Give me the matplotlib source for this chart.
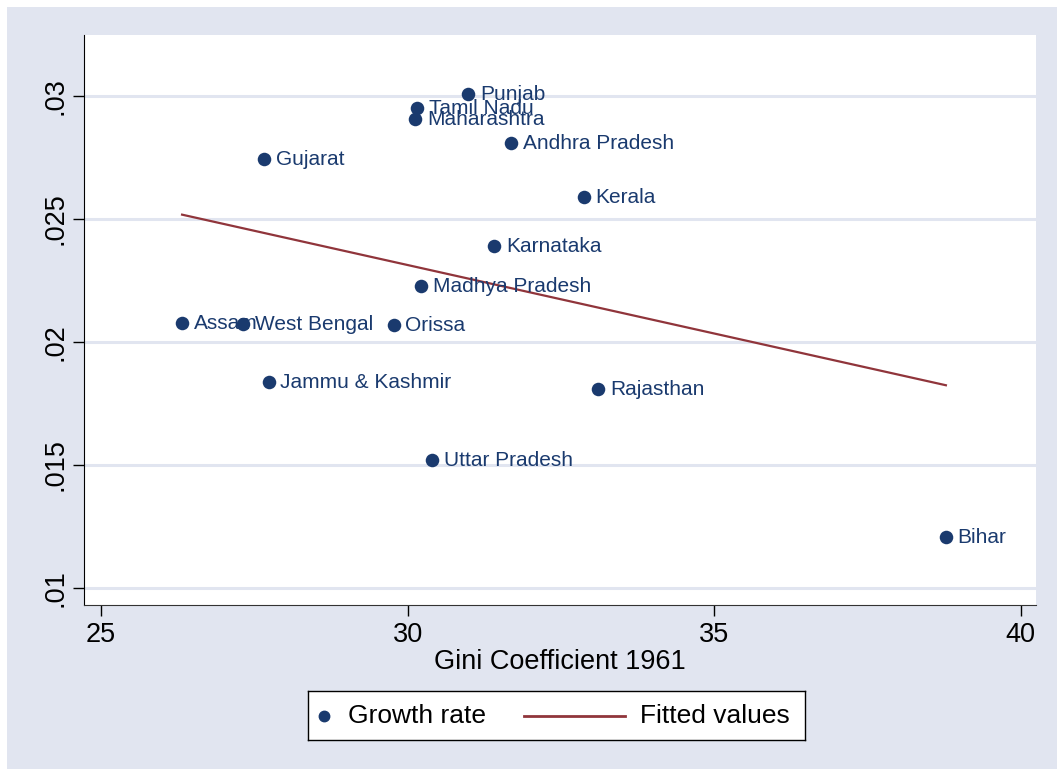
import numpy as np
import matplotlib
matplotlib.use("Agg")
import matplotlib.pyplot as plt
from matplotlib.patches import Rectangle

states = ["Punjab", "Tamil Nadu", "Maharashtra", "Andhra Pradesh", "Gujarat",
          "Kerala", "Karnataka", "Madhya Pradesh", "Assam", "West Bengal",
          "Orissa", "Jammu & Kashmir", "Rajasthan", "Uttar Pradesh", "Bihar"]
gini_1961 = [30.99, 30.16, 30.12, 31.69, 27.66,
             32.87, 31.41, 30.22, 26.32, 27.32,
             29.77, 27.73, 33.11, 30.40, 38.78]
growth_rate = [0.03008, 0.02951, 0.02907, 0.02809, 0.02744,
               0.02589, 0.02390, 0.02228, 0.02077, 0.02073,
               0.02069, 0.01837, 0.01809, 0.01520, 0.01207]
x_ticks = [25, 30, 35, 40]
y_ticks = [0.01, 0.015, 0.02, 0.025, 0.03]
y_tick_labels = [".01", ".015", ".02", ".025", ".03"]
legend_labels = ["Growth rate", "Fitted values"]

NAVY = "#1A3A6E"
MAROON = "#90353B"
BG = "#E1E5F0"
GRID = "#E1E5F0"

plt.rcParams['font.family'] = ['Liberation Sans', 'DejaVu Sans']

W, H = 1057, 769
fig = plt.figure(figsize=(W / 100, H / 100), dpi=100)
fig.patch.set_facecolor("white")
fig.patches.append(Rectangle((7 / W, 0), 1 - 7 / W, 1 - 7 / H,
                             transform=fig.transFigure, facecolor=BG,
                             edgecolor="none", zorder=-1))

ax = fig.add_axes([84 / W, 1 - 605 / H, (1036 - 84) / W, (605 - 35) / H])
ax.set_facecolor("white")
ax.set_zorder(1)

x = np.array(gini_1961)
y = np.array(growth_rate)

ax.scatter(x, y, s=95, color=NAVY, zorder=3, linewidths=0)
for name, xi, yi in zip(states, x, y):
    ax.annotate(name, (xi, yi), xytext=(8.5, -0.5), textcoords="offset points",
                va="center", ha="left", fontsize=15, color=NAVY, zorder=4)

slope, intercept = np.polyfit(x, y, 1)
xf = np.array([x.min(), x.max()])
ax.plot(xf, intercept + slope * xf, color=MAROON, lw=1.6, zorder=2)

ax.set_xlim(24.72, 40.25)
ax.set_ylim(0.00931, 0.03248)
ax.set_xticks(x_ticks)
ax.set_xticklabels([str(t) for t in x_ticks])
ax.set_yticks(y_ticks)
ax.set_yticklabels(y_tick_labels, rotation=90, va="center")
ax.tick_params(axis="both", direction="out", length=8, width=1, labelsize=19.5, colors="black")
ax.tick_params(axis="x", pad=4)
ax.tick_params(axis="y", pad=3)
ax.yaxis.grid(True, color=GRID, lw=2.2, zorder=0)
ax.xaxis.grid(False)
ax.set_axisbelow(True)
for s in ["top", "right"]:
    ax.spines[s].set_visible(False)
ax.spines["left"].set_color("black")
ax.spines["bottom"].set_color("#333333")

ax.set_xlabel("Gini Coefficient 1961", fontsize=19.5, labelpad=1)

# Legend drawn as a small boxed panel (Stata-style key layout)
L, R, T, B = 308, 805, 691, 740
lax = fig.add_axes([L / W, 1 - B / H, (R - L) / W, (B - T) / H])
lax.set_zorder(2)
lax.set_xlim(L, R)
lax.set_ylim(B, T)
lax.set_facecolor("white")
lax.set_xticks([])
lax.set_yticks([])
for s in lax.spines.values():
    s.set_color("black")
    s.set_linewidth(1.0)
ym = (T + B) / 2
lax.plot([324], [ym], marker="o", color=NAVY, markersize=7.5, ls="none")
lax.text(348, ym, legend_labels[0], fontsize=19, va="center", ha="left")
lax.plot([524, 625], [ym, ym], color=MAROON, lw=2)
lax.text(640, ym, legend_labels[1], fontsize=19, va="center", ha="left")

fig.savefig("out.png", dpi=100)
